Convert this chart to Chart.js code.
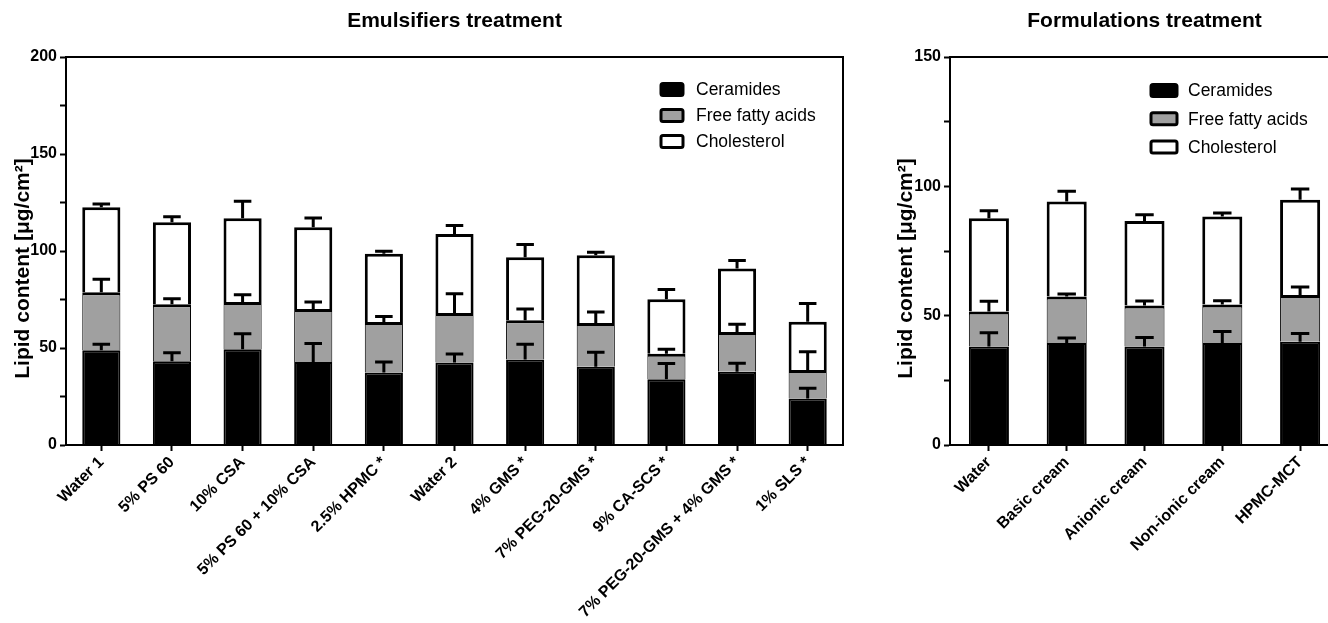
<!DOCTYPE html>
<html>
<head>
<meta charset="utf-8">
<script src="https://cdn.jsdelivr.net/npm/chart.js@4.4.1/dist/chart.umd.min.js"></script>
<style>
    html, body { margin: 0; padding: 0; background: #fff; overflow: hidden; width: 1328px; height: 623px; }
    canvas { position: absolute; top: 0; }
    #emulsifiersChart { left: 0; }
    #formulationsChart { left: 870px; }
</style>
</head>
<body>
<canvas id="emulsifiersChart" width="870" height="623"></canvas>
<canvas id="formulationsChart" width="480" height="623"></canvas>
<script>
const FONT = "'Liberation Sans', Arial, Helvetica, sans-serif";

const seriesNames = ['Ceramides', 'Free fatty acids', 'Cholesterol'];
const seriesColors = ['#000000', '#a0a0a0', '#ffffff'];

// Emulsifiers treatment (µg/cm²), stacked, with upper SEM bars
const emulsifierLabels = ['Water 1', '5% PS 60', '10% CSA', '5% PS 60 + 10% CSA', '2.5% HPMC *', 'Water 2',
    '4% GMS *', '7% PEG-20-GMS *', '9% CA-SCS *', '7% PEG-20-GMS + 4% GMS *', '1% SLS *'];
const emulsifierCeramides = [48.8, 43.2, 49.4, 42.8, 37.4, 42.5, 44.1, 40.3, 33.9, 37.7, 24.0];
const emulsifierFattyAcids = [30.0, 29.3, 24.3, 27.3, 26.0, 25.5, 20.2, 22.6, 13.2, 20.6, 14.6];
const emulsifierCholesterol = [43.7, 42.3, 43.2, 42.1, 35.2, 40.8, 32.5, 34.9, 28.0, 32.7, 24.9];
const emulsifierCeramidesErr = [3.1, 4.4, 8.0, 9.5, 5.4, 4.4, 7.8, 7.5, 8.1, 4.5, 5.2];
const emulsifierFattyAcidsErr = [6.7, 2.9, 3.8, 3.6, 2.9, 10.0, 5.8, 5.6, 2.3, 3.9, 9.5];
const emulsifierCholesterolErr = [1.7, 2.9, 8.7, 4.8, 1.3, 4.3, 6.5, 1.6, 5.1, 4.1, 9.5];
const emulsifierTicks = [0, 50, 100, 150, 200];

// Formulations treatment
const formulationLabels = ['Water', 'Basic cream', 'Anionic cream', 'Non-ionic cream', 'HPMC-MCT'];
const formulationCeramides = [38.1, 39.4, 38.1, 39.4, 39.9];
const formulationFattyAcids = [13.5, 18.0, 15.8, 14.9, 18.1];
const formulationCholesterol = [36.1, 36.7, 32.7, 34.0, 36.8];
const formulationCeramidesErr = [5.3, 2.0, 3.5, 4.5, 3.2];
const formulationFattyAcidsErr = [4.0, 1.0, 1.8, 1.5, 3.1];
const formulationCholesterolErr = [2.9, 4.0, 2.4, 1.4, 4.2];
const formulationTicks = [0, 50, 100, 150];

// segment outlines: white bars get a heavy frame, grey ones a thin side edge
const segmentBorders = [
    2,
    { top: 3, left: 1, right: 1, bottom: 0 },
    { top: 3, left: 3, right: 3, bottom: 0 }
];

// error bars on top of each stacked segment
const errorBars = {
    id: 'errorBars',
    afterDatasetsDraw(chart) {
        const ctx = chart.ctx;
        const yScale = chart.scales.y;
        const totals = [];
        ctx.save();
        ctx.strokeStyle = '#000';
        ctx.lineWidth = 3;
        chart.data.datasets.forEach((ds, i) => {
            chart.getDatasetMeta(i).data.forEach((bar, j) => {
                totals[j] = (totals[j] || 0) + ds.data[j];
                const top = yScale.getPixelForValue(totals[j]);
                const cap = yScale.getPixelForValue(totals[j] + ds.errors[j]);
                const half = bar.width * 0.23;
                ctx.beginPath();
                ctx.moveTo(bar.x, top);
                ctx.lineTo(bar.x, cap);
                ctx.moveTo(bar.x - half, cap);
                ctx.lineTo(bar.x + half, cap);
                ctx.stroke();
            });
        });
        ctx.restore();
    }
};

// closes the plot box (top and right edges)
const frame = {
    id: 'frame',
    afterDraw(chart) {
        const { ctx, chartArea } = chart;
        ctx.save();
        ctx.strokeStyle = '#000';
        ctx.lineWidth = 2;
        ctx.beginPath();
        ctx.moveTo(chartArea.left, chartArea.top);
        ctx.lineTo(chartArea.right, chartArea.top);
        ctx.lineTo(chartArea.right, chartArea.bottom);
        ctx.stroke();
        ctx.restore();
    }
};

// legend boxes drawn inside the plot area
const boxLegend = {
    id: 'boxLegend',
    afterDraw(chart, args, opts) {
        const ctx = chart.ctx;
        ctx.save();
        ctx.font = '17.5px ' + FONT;
        ctx.textBaseline = 'middle';
        chart.data.datasets.forEach((ds, i) => {
            const cy = opts.y + i * opts.rowGap;
            ctx.beginPath();
            ctx.roundRect(opts.x, cy - opts.boxH / 2, opts.boxW, opts.boxH, 2);
            ctx.fillStyle = ds.backgroundColor;
            ctx.fill();
            ctx.lineWidth = 3;
            ctx.strokeStyle = '#000';
            ctx.stroke();
            ctx.fillStyle = '#000';
            ctx.fillText(ds.label, opts.textX, cy + 1);
        });
        ctx.restore();
    }
};

function makeDatasets(values, errors) {
    return values.map((data, i) => ({
        label: seriesNames[i],
        data: data,
        errors: errors[i],
        backgroundColor: seriesColors[i],
        borderColor: '#000',
        borderWidth: segmentBorders[i]
    }));
}

function makeOptions(cfg) {
    return {
        responsive: false,
        animation: false,
        devicePixelRatio: 1,
        events: [],
        layout: { padding: { left: 0, right: cfg.padRight, top: 0, bottom: 0 } },
        datasets: {
            bar: { categoryPercentage: cfg.barShare, barPercentage: 1 }
        },
        plugins: {
            legend: { display: false },
            tooltip: { enabled: false },
            title: {
                display: true,
                text: cfg.title,
                fullSize: false,
                color: '#000',
                font: { family: FONT, size: 21, weight: 'bold' },
                padding: { top: 9, bottom: 22.8 }
            },
            boxLegend: cfg.legend
        },
        scales: {
            x: {
                stacked: true,
                offset: true,
                afterFit: (scale) => { scale.height = 178; },
                border: { display: true, color: '#000', width: 2 },
                grid: { offset: false, drawOnChartArea: false, drawTicks: true, tickLength: 6, tickColor: '#000', tickWidth: 2 },
                ticks: {
                    color: '#000',
                    autoSkip: false,
                    maxRotation: 45,
                    minRotation: 45,
                    padding: 2,
                    font: { family: FONT, size: 16, weight: 'bold' }
                }
            },
            y: {
                stacked: true,
                min: 0,
                max: cfg.max,
                afterFit: (scale) => { scale.width = cfg.axisWidth; },
                border: { display: true, color: '#000', width: 2 },
                grid: { drawOnChartArea: false, drawTicks: true, tickLength: 6, tickColor: '#000', tickWidth: 2 },
                ticks: {
                    stepSize: 25,
                    autoSkip: false,
                    padding: 3,
                    color: '#000',
                    font: { family: FONT, size: 16, weight: 'bold' },
                    callback: (v) => cfg.ticks.includes(v) ? v : ''
                },
                title: {
                    display: true,
                    // trailing spaces nudge the rotated title down, as in the original
                    text: 'Lipid content [μg/cm²]      ',
                    color: '#000',
                    font: { family: FONT, size: 21, weight: 'bold' },
                    padding: { top: cfg.titlePad, bottom: 0 }
                }
            }
        }
    };
}

new Chart(document.getElementById('emulsifiersChart'), {
    type: 'bar',
    data: {
        labels: emulsifierLabels,
        datasets: makeDatasets(
            [emulsifierCeramides, emulsifierFattyAcids, emulsifierCholesterol],
            [emulsifierCeramidesErr, emulsifierFattyAcidsErr, emulsifierCholesterolErr])
    },
    options: makeOptions({
        title: 'Emulsifiers treatment',
        max: 200,
        ticks: emulsifierTicks,
        axisWidth: 66,
        padRight: 27,
        barShare: 0.54,
        titlePad: 11,
        legend: { x: 661, y: 89.5, rowGap: 26, boxW: 22, boxH: 12, textX: 696 }
    }),
    plugins: [errorBars, frame, boxLegend]
});

new Chart(document.getElementById('formulationsChart'), {
    type: 'bar',
    data: {
        labels: formulationLabels,
        datasets: makeDatasets(
            [formulationCeramides, formulationFattyAcids, formulationCholesterol],
            [formulationCeramidesErr, formulationFattyAcidsErr, formulationCholesterolErr])
    },
    options: makeOptions({
        title: 'Formulations treatment',
        max: 150,
        ticks: formulationTicks,
        axisWidth: 80,
        padRight: 11,
        barShare: 0.515,
        titlePad: 24,
        legend: { x: 281, y: 90.5, rowGap: 28.3, boxW: 26, boxH: 12, textX: 318 }
    }),
    plugins: [errorBars, frame, boxLegend]
});
</script>
</body>
</html>
